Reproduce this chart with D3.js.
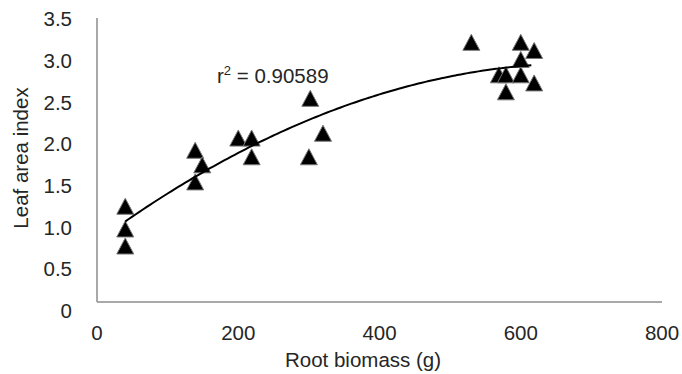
<!DOCTYPE html>
<html>
<head>
<meta charset="utf-8">
<script src="https://cdn.jsdelivr.net/npm/d3@7"></script>
<style>
  html, body { margin: 0; padding: 0; background: #fff; }
  svg { display: block; font-family: 'Liberation Sans', Arial, sans-serif; }
</style>
</head>
<body>
<svg id="chart"></svg>
<script>
const WIDTH = 682;
const HEIGHT = 374;

// root biomass (g) and leaf area index
const rootBiomass = [40, 40, 40, 139, 139, 149, 200, 219, 219, 300, 302, 320,
  530, 600, 619, 600, 569, 579, 600, 619, 579];
const leafAreaIndex = [1.18, 0.9, 0.69, 1.87, 1.48, 1.69, 2.02, 2.02, 1.79, 1.79, 2.51, 2.08,
  3.2, 3.2, 3.1, 2.99, 2.8, 2.8, 2.8, 2.7, 2.59];

const xTicks = [0, 200, 400, 600, 800];
const yTicks = [0, 0.5, 1.0, 1.5, 2.0, 2.5, 3.0, 3.5];
const rSquaredText = '0.90589';

const TEXT = '#262626';
const AXIS = '#8c8c8c';
const FONT = 20.5;

// least squares quadratic y = a + b x + c x^2
function fitQuadratic(xs, ys) {
	const n = xs.length;
	let s = [0, 0, 0, 0, 0], t = [0, 0, 0];
	for (let i = 0; i < n; i++) {
		const x = xs[i], y = ys[i];
		for (let k = 0; k < 5; k++) s[k] += Math.pow(x, k);
		for (let k = 0; k < 3; k++) t[k] += y * Math.pow(x, k);
	}
	const m = [
		[s[0], s[1], s[2], t[0]],
		[s[1], s[2], s[3], t[1]],
		[s[2], s[3], s[4], t[2]]
	];
	for (let i = 0; i < 3; i++) {
		for (let j = i + 1; j < 3; j++) {
			const f = m[j][i] / m[i][i];
			for (let k = i; k < 4; k++) m[j][k] -= f * m[i][k];
		}
	}
	const c = [0, 0, 0];
	for (let i = 2; i >= 0; i--) {
		let v = m[i][3];
		for (let k = i + 1; k < 3; k++) v -= m[i][k] * c[k];
		c[i] = v / m[i][i];
	}
	return c;
}

const svg = d3.select('#chart').attr('width', WIDTH).attr('height', HEIGHT);

const x = d3.scaleLinear().domain([0, 800]).range([97, 662]);
const y = d3.scaleLinear().domain([0, 3.5]).range([302, 18]);
// tick labels sit on a slightly taller spacing than the plot area
const yLabel = d3.scaleLinear().domain([0, 3.5]).range([311, 19]);

// axis lines
svg.append('line')
	.attr('x1', x(0)).attr('x2', x(0))
	.attr('y1', y(3.5)).attr('y2', y(0))
	.attr('stroke', AXIS).attr('stroke-width', 1.5);
svg.append('line')
	.attr('x1', x(0)).attr('x2', x(800))
	.attr('y1', y(0)).attr('y2', y(0))
	.attr('stroke', AXIS).attr('stroke-width', 1.5);

// tick labels
svg.append('g')
	.selectAll('text')
	.data(yTicks)
	.enter()
	.append('text')
	.attr('x', 72)
	.attr('y', (d) => yLabel(d))
	.attr('dy', '0.35em')
	.attr('text-anchor', 'end')
	.attr('fill', TEXT)
	.attr('font-size', FONT)
	.text((d) => (d === 0 ? '0' : d.toFixed(1)));

svg.append('g')
	.selectAll('text')
	.data(xTicks)
	.enter()
	.append('text')
	.attr('x', (d) => x(d))
	.attr('y', 333)
	.attr('dy', '0.35em')
	.attr('text-anchor', 'middle')
	.attr('fill', TEXT)
	.attr('font-size', FONT)
	.text((d) => d);

// axis titles
svg.append('text')
	.attr('x', 363).attr('y', 367)
	.attr('text-anchor', 'middle')
	.attr('fill', TEXT)
	.attr('font-size', FONT)
	.text('Root biomass (g)');
svg.append('text')
	.attr('transform', 'translate(28,158) rotate(-90)')
	.attr('text-anchor', 'middle')
	.attr('fill', TEXT)
	.attr('font-size', FONT)
	.text('Leaf area index');

// markers
const points = rootBiomass.map((d, i) => ({ x: d, y: leafAreaIndex[i] }));
const tri = 'M0,-8L8.5,8L-8.5,8Z';
svg.append('g')
	.selectAll('path')
	.data(points)
	.enter()
	.append('path')
	.attr('d', tri)
	.attr('transform', (d) => `translate(${x(d.x)},${y(d.y)})`)
	.attr('fill', '#000')
	.attr('stroke', '#777')
	.attr('stroke-width', 1)
	.attr('stroke-linejoin', 'round');

// quadratic trendline
const coef = fitQuadratic(rootBiomass, leafAreaIndex);
const [xMin, xMax] = d3.extent(rootBiomass);
const trend = d3.range(xMin, xMax + 0.1, 5).map((v) => ({
	x: v,
	y: coef[0] + coef[1] * v + coef[2] * v * v
}));
svg.append('path')
	.datum(trend)
	.attr('fill', 'none')
	.attr('stroke', '#000')
	.attr('stroke-width', 2)
	.attr('d', d3.line().x((d) => x(d.x)).y((d) => y(d.y)).curve(d3.curveMonotoneX));

// r squared label
const r2 = svg.append('text')
	.attr('x', 217).attr('y', 83)
	.attr('fill', TEXT)
	.attr('font-size', FONT);
r2.append('tspan').text('r');
r2.append('tspan').attr('font-size', 13).attr('dy', -8).text('2');
r2.append('tspan').attr('dy', 8).text(' = ' + rSquaredText);
</script>
</body>
</html>
